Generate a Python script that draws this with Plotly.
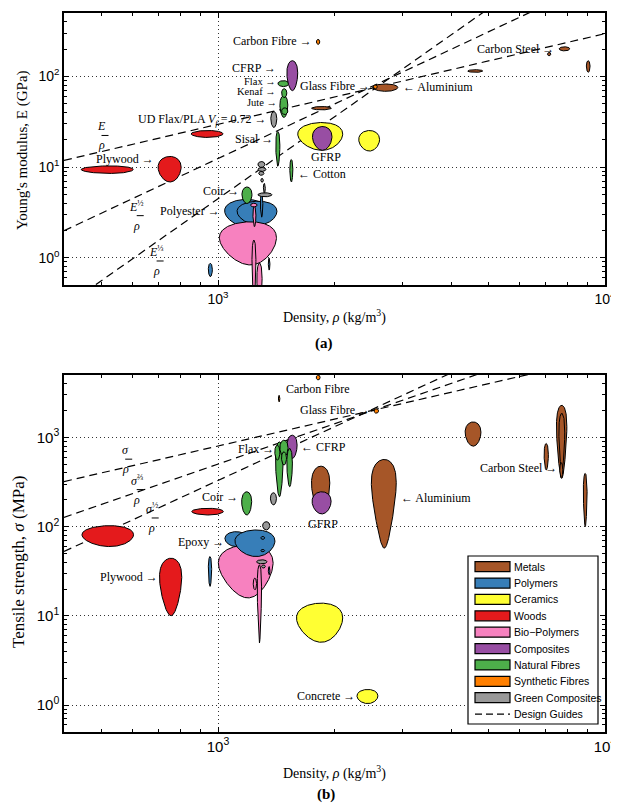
import numpy as np
import plotly.graph_objects as go

# ---------------- data ----------------
CATEGORIES = ["Metals", "Polymers", "Ceramics", "Woods", "Bio\u2212Polymers", "Composites",
              "Natural Fibres", "Synthetic Fibres", "Green Composites"]
COLORS = ["#A65628", "#377EB8", "#FFFF33", "#E41A1C", "#F781BF", "#984EA3",
          "#4DAF4A", "#FF7F00", "#999999"]

# (a) Young's modulus vs density: category, density range (kg/m3), modulus range (GPa)
TOP_CAT = ["Ceramics", "Composites", "Ceramics", "Woods", "Woods", "Woods",
           "Polymers", "Polymers", "Bio\u2212Polymers", "Bio\u2212Polymers", "Bio\u2212Polymers",
           "Bio\u2212Polymers", "Bio\u2212Polymers", "Polymers", "Polymers", "Polymers",
           "Green Composites", "Green Composites", "Green Composites", "Green Composites",
           "Green Composites", "Green Composites", "Green Composites",
           "Natural Fibres", "Natural Fibres", "Natural Fibres", "Natural Fibres",
           "Natural Fibres", "Natural Fibres", "Natural Fibres", "Composites",
           "Metals", "Metals", "Synthetic Fibres", "Metals", "Metals", "Metals", "Metals",
           "Synthetic Fibres"]
TOP_RHO_LO = [1607, 1754, 2310, 443, 700, 852, 1040, 1120, 1008, 1224, 1260, 1231, 1214,
              1287, 944, 1349, 1268, 1268, 1274, 1290, 1310, 1268, 1369,
              1153, 1533, 1410, 1445, 1460, 1460, 1428, 1506,
              1744, 2510, 2520, 4420, 7100, 7610, 8950, 1796]
TOP_RHO_HI = [2100, 1970, 2615, 604, 803, 1030, 1330, 1420, 1416, 1253, 1300, 1253, 1262,
              1306, 967, 1362, 1322, 1330, 1314, 1310, 1325, 1378, 1419,
              1224, 1561, 1445, 1515, 1515, 1506, 1524, 1607,
              1963, 2915, 2580, 4830, 7245, 8110, 9150, 1832]
TOP_E_LO = [15.3, 15.3, 15.0, 8.5, 6.84, 21.2, 2.2, 2.3, 0.832, 0.35, 0.3, 2.2, 3.63,
            2.8, 0.618, 0.73, 9.9, 8.95, 8.1, 6.8, 5.1, 4.7, 27.3,
            3.96, 6.84, 10.2, 35.2, 37.9, 58.3, 77.1, 69.6,
            42.7, 68.4, 73.0, 110.7, 168.6, 191, 110.7, 225]
TOP_E_HI = [31.0, 28.0, 25.3, 10.3, 13.1, 25.3, 4.4, 4.2, 2.49, 1.565, 0.875, 3.7, 3.99,
            5.14, 0.868, 0.99, 11.5, 9.9, 8.95, 7.5, 6.6, 5.2, 40.9,
            6.03, 12.1, 24.7, 61.4, 45.0, 73.2, 89.7, 149,
            46.5, 82.5, 80.7, 118.5, 183.6, 212, 149, 256]

# (b) Tensile strength vs density: category, density range (kg/m3), strength range (MPa)
BOT_CAT = ["Ceramics", "Ceramics", "Woods", "Woods", "Woods", "Polymers", "Bio\u2212Polymers",
           "Polymers", "Polymers", "Polymers", "Polymers", "Green Composites",
           "Bio\u2212Polymers", "Bio\u2212Polymers", "Green Composites", "Green Composites",
           "Polymers", "Natural Fibres", "Green Composites", "Composites",
           "Natural Fibres", "Natural Fibres", "Natural Fibres", "Natural Fibres",
           "Natural Fibres", "Synthetic Fibres", "Synthetic Fibres", "Synthetic Fibres",
           "Metals", "Composites", "Metals", "Metals", "Metals", "Metals", "Metals",
           "Metals", "Metals"]
BOT_RHO_LO = [1595, 2286, 445, 855, 706, 944, 1002, 1042, 1106, 1290, 1290, 1304,
              1263, 1233, 1258, 1296, 1349, 1151, 1366, 1509,
              1408, 1402, 1445, 1459, 1506, 1432, 1794, 2530,
              1744, 1750, 2490, 4350, 6960, 7490, 7600, 7640, 8790]
BOT_RHO_HI = [2100, 2589, 605, 1032, 806, 963, 1388, 1186, 1403, 1320, 1320, 1361,
              1296, 1258, 1339, 1325, 1362, 1222, 1416, 1601,
              1474, 1445, 1517, 1503, 1557, 1445, 1836, 2600,
              1945, 1960, 2888, 4780, 7140, 7970, 7870, 7780, 8990]
BOT_S_LO = [5.06, 1.04, 59.8, 135, 10.05, 21.4, 15.9, 59.8, 46.2, 71.9, 52.3, 91.8,
            4.98, 19.6, 38.3, 34.3, 28.9, 135, 175, 581,
            216, 556, 605, 489, 280, 2495, 4400, 1865,
            140, 138.7, 57.4, 797, 430, 347.6, 430, 350, 100]
BOT_S_HI = [13.9, 1.50, 102.6, 160.5, 44.3, 46.2, 62.4, 87.9, 91.8, 77.7, 55.6, 113.7,
            37.3, 26.5, 42.5, 37.3, 35.7, 246, 240, 1059,
            891, 818, 930, 689, 751, 2960, 5000, 2090,
            476, 246, 566, 1490, 855, 2291, 1860, 520, 395]

# design guides: exponent n in property = C * rho^n, value at rho = 1000 kg/m3
TOP_GUIDE_EXP = [1, 2, 3]
TOP_GUIDE_AT_1000 = [29.6, 12.4, 4.47]
BOT_GUIDE_EXP = [1, 1.5, 2]
BOT_GUIDE_AT_1000 = [800, 502, 329]
GUIDE_RHO = [400, 10000]

# axis ticks
X_TICKS = [1000, 10000]
X_TICKTEXT = ["10<sup>3</sup>", "10<sup>4</sup>"]
TOP_Y_TICKS = [1, 10, 100]
TOP_Y_TICKTEXT = ["10<sup>0</sup>", "10<sup>1</sup>", "10<sup>2</sup>"]
BOT_Y_TICKS = [1, 10, 100, 1000]
BOT_Y_TICKTEXT = ["10<sup>0</sup>", "10<sup>1</sup>", "10<sup>2</sup>", "10<sup>3</sup>"]

# labels: text, density, property value, anchor, font size
TOP_LABELS = [
    ("Carbon Fibre \u2192", 1768, 247, "right", 12),
    ("CFRP \u2192", 1428, 124.6, "right", 12),
    ("Flax \u2192", 1428, 88.5, "right", 10.5),
    ("Kenaf \u2192", 1428, 67.9, "right", 10.5),
    ("Jute \u2192", 1436, 52.0, "right", 10.5),
    ("UD Flax/PLA <i>V<sub>f</sub></i> = 0.72 \u2192", 1349, 33.4, "right", 12),
    ("Sisal \u2192", 1403, 20.2, "right", 12),
    ("Glass Fibre \u2192", 2494, 79.0, "right", 12),
    ("\u2190 Aluminium", 2962, 77.1, "left", 12),
    ("Carbon Steel \u2192", 7477, 201.5, "right", 12),
    ("GFRP", 1898, 12.8, "center", 12),
    ("\u2190 Cotton", 1589, 8.31, "left", 12),
    ("Plywood \u2192", 690, 12.3, "right", 12),
    ("Coir \u2192", 1150, 5.41, "right", 12),
    ("Polyester \u2192", 1024, 3.26, "right", 12),
]
BOT_LABELS = [
    ("Carbon Fibre", 1810, 3500, "center", 12),
    ("Glass Fibre \u2192", 2494, 2039, "right", 12),
    ("Flax \u2192", 1411, 748, "right", 12),
    ("\u2190 CFRP", 1617, 777, "left", 12),
    ("Coir \u2192", 1143, 214.7, "right", 12),
    ("GFRP", 1865, 107.2, "center", 12),
    ("\u2190 Aluminium", 2944, 209, "left", 12),
    ("Carbon Steel \u2192", 7610, 458.6, "right", 12),
    ("Epoxy \u2192", 1048, 67.5, "right", 12),
    ("Plywood \u2192", 707, 27.4, "right", 12),
    ("Concrete \u2192", 2281, 1.25, "right", 12),
]
TOP_GUIDE_LABELS = [("<i>E</i>", 500, 22.3), ("<i>E</i><sup>\u00bd</sup>", 616.5, 2.91),
                    ("<i>E</i><sup>\u2153</sup>", 694, 0.92)]
BOT_GUIDE_LABELS = [("<i>\u03c3</i>", 575.7, 570), ("<i>\u03c3</i><sup>\u2154</sup>", 616.5, 260),
                    ("<i>\u03c3</i><sup>\u00bd</sup>", 674, 125)]

# ---------------- layout helpers ----------------
# the page body has an 8px margin, so the figure is drawn 8px in from the top-left corner
OFF = 8
W, H = 619 - OFF, 804 - OFF
SERIF = "Liberation Serif, Times New Roman, serif"
SANS = "Liberation Sans, Arial, sans-serif"
X0, X1 = 64, 605
TOP_Y0, TOP_Y1 = 13, 285
BOT_Y0, BOT_Y1 = 375, 732


def px_x(p):
    return (p - OFF) / W


def px_y(p):
    return 1 - (p - OFF) / H


def ellipse(xlo, xhi, ylo, yhi, n=400):
    t = np.linspace(0, 2 * np.pi, n)
    cx, rx = (xlo + xhi) / 2, (xhi - xlo) / 2
    cy, ry = (ylo + yhi) / 2, (yhi - ylo) / 2
    return cx + rx * np.cos(t), cy + ry * np.sin(t)


color_of = dict(zip(CATEGORIES, COLORS))
fig = go.Figure()


def add_bubbles(cats, xlo, xhi, ylo, yhi, xa, ya):
    for c, a, b, p, q in zip(cats, xlo, xhi, ylo, yhi):
        xs, ys = ellipse(a, b, p, q)
        fig.add_trace(go.Scatter(x=xs, y=ys, mode="lines", fill="toself",
                                 fillcolor=color_of[c], line=dict(color="black", width=1),
                                 hoverinfo="skip", showlegend=False, xaxis=xa, yaxis=ya))


def add_guides(exps, at1000, xa, ya):
    for n, c in zip(exps, at1000):
        xs = np.array(GUIDE_RHO, dtype=float)
        ys = c * (xs / 1000.0) ** n
        fig.add_trace(go.Scatter(x=xs, y=ys, mode="lines",
                                 line=dict(color="black", width=1.2, dash="8px,5px"),
                                 hoverinfo="skip", showlegend=False, xaxis=xa, yaxis=ya))


add_guides(TOP_GUIDE_EXP, TOP_GUIDE_AT_1000, "x", "y")
add_guides(BOT_GUIDE_EXP, BOT_GUIDE_AT_1000, "x2", "y2")
add_bubbles(TOP_CAT, TOP_RHO_LO, TOP_RHO_HI, TOP_E_LO, TOP_E_HI, "x", "y")
add_bubbles(BOT_CAT, BOT_RHO_LO, BOT_RHO_HI, BOT_S_LO, BOT_S_HI, "x2", "y2")

annotations = []
shapes = []


def label(text, rho, val, anchor, xr, yr, yshift=0, size=12):
    annotations.append(dict(text=text, x=np.log10(rho), y=np.log10(val), xref=xr, yref=yr,
                            xanchor=anchor, yanchor="middle", showarrow=False, yshift=yshift,
                            font=dict(family=SERIF, size=size, color="black")))


for t, r, v, a, s in TOP_LABELS:
    label(t, r, v, a, "x", "y", size=s)
for t, r, v, a, s in BOT_LABELS:
    label(t, r, v, a, "x2", "y2", size=s)


def fraction(num, rho, val, xr, yr):
    label(num, rho, val, "center", xr, yr, yshift=9)
    label("<i>\u03c1</i>", rho, val, "center", xr, yr, yshift=-10)
    shapes.append(dict(type="line", xref=xr, yref=yr, xsizemode="pixel", ysizemode="pixel",
                       xanchor=rho, yanchor=val, x0=-7, x1=7, y0=0, y1=0,
                       line=dict(color="black", width=1)))


for t, r, v in TOP_GUIDE_LABELS:
    fraction(t, r, v, "x", "y")
for t, r, v in BOT_GUIDE_LABELS:
    fraction(t, r, v, "x2", "y2")


def paper_text(text, x, y, size, angle=0, bold=False):
    annotations.append(dict(text=("<b>%s</b>" % text) if bold else text, x=px_x(x), y=px_y(y),
                            xref="paper", yref="paper", xanchor="center", yanchor="middle",
                            showarrow=False, textangle=angle,
                            font=dict(family=SERIF, size=size, color="black")))


paper_text("Young's modulus, E (GPa)", 23, 150, 15, angle=-90)
paper_text("Density, <i>\u03c1</i> (kg/m<sup>3</sup>)", 334, 316, 14)
paper_text("(a)", 324, 343, 15, bold=True)
paper_text("Tensile strength, <i>\u03c3</i> (MPa)", 18, 562, 17, angle=-90)
paper_text("Density, <i>\u03c1</i> (kg/m<sup>3</sup>)", 334, 772, 14)
paper_text("(b)", 326, 794, 15, bold=True)

# legend (drawn in the lower panel)
LEG_L, LEG_R, LEG_T, LEG_B = 468, 598, 556, 724
ROW0, STEP = 566.7, 16.37
shapes.append(dict(type="rect", xref="paper", yref="paper", x0=px_x(LEG_L), x1=px_x(LEG_R),
                   y0=px_y(LEG_B), y1=px_y(LEG_T), fillcolor="white",
                   line=dict(color="black", width=1.2), layer="above"))
leg_names = CATEGORIES + ["Design Guides"]
for i, name in enumerate(leg_names):
    cy = ROW0 + i * STEP
    if i < len(CATEGORIES):
        shapes.append(dict(type="rect", xref="paper", yref="paper", x0=px_x(475), x1=px_x(510),
                           y0=px_y(cy + 5), y1=px_y(cy - 5), fillcolor=COLORS[i],
                           line=dict(color="black", width=1.2), layer="above"))
    else:
        shapes.append(dict(type="line", xref="paper", yref="paper", x0=px_x(475), x1=px_x(510),
                           y0=px_y(cy), y1=px_y(cy), layer="above",
                           line=dict(color="black", width=1.2, dash="7px,4px")))
    annotations.append(dict(text=name, x=px_x(512), y=px_y(cy), xref="paper", yref="paper",
                            xanchor="left", yanchor="middle", showarrow=False,
                            font=dict(family=SANS, size=10.5, color="black")))


def log_axis(rng, domain, anchor, fsize, tickvals, ticktext):
    return dict(type="log", range=rng, domain=domain, anchor=anchor, autorange=False,
                showline=True, linecolor="black", linewidth=1.5, mirror="allticks",
                ticks="inside", ticklen=5, tickwidth=1, tickcolor="black",
                tickmode="array", tickvals=tickvals, ticktext=ticktext,
                ticklabeloverflow="allow",
                tickfont=dict(family=SANS, size=fsize, color="black"),
                showgrid=True, gridcolor="#333333", griddash="1px,3px", gridwidth=1,
                minor=dict(ticks="inside", ticklen=3, tickcolor="black", dtick="D1",
                           showgrid=False),
                zeroline=False, automargin=False, fixedrange=True)


xdom = [px_x(X0), px_x(X1)]
fig.update_layout(
    width=W, height=H, margin=dict(l=0, r=0, t=0, b=0),
    paper_bgcolor="white", plot_bgcolor="white", showlegend=False,
    xaxis=log_axis([np.log10(400), 4], xdom, "y", 14, X_TICKS, X_TICKTEXT),
    yaxis=log_axis([np.log10(0.5), np.log10(500)], [px_y(TOP_Y1), px_y(TOP_Y0)], "x", 14,
                   TOP_Y_TICKS, TOP_Y_TICKTEXT),
    xaxis2=log_axis([np.log10(400), 4], xdom, "y2", 15, X_TICKS, X_TICKTEXT),
    yaxis2=log_axis([np.log10(0.5), np.log10(5000)], [px_y(BOT_Y1), px_y(BOT_Y0)], "x2", 15,
                    BOT_Y_TICKS, BOT_Y_TICKTEXT),
    annotations=annotations, shapes=shapes,
)

fig.write_html("out.html")
